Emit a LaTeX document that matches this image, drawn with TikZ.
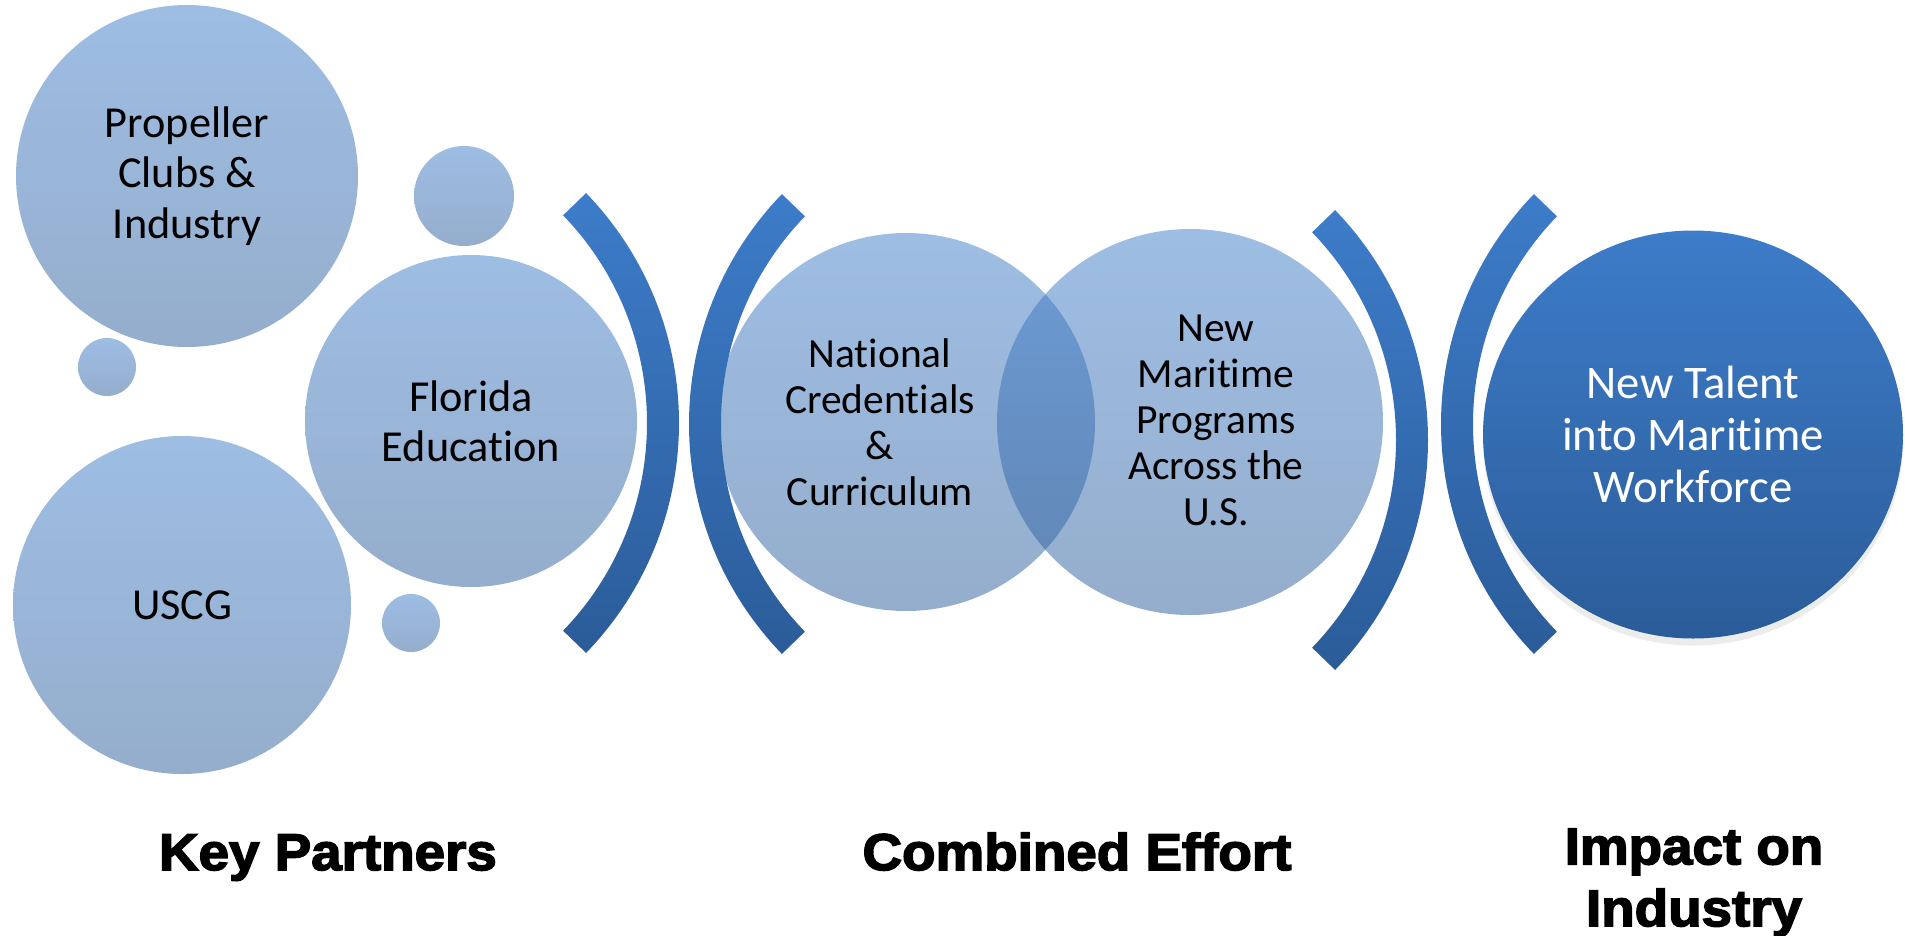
\documentclass[tikz,border=0pt]{standalone}
\usepackage{fontspec}
\setmainfont{Carlito}[Ligatures=NoCommon]
\newfontfamily\titlefont[FakeStretch=1.06,FakeBold=3]{Liberation Sans Bold}
\usetikzlibrary{shapes.geometric,shadows}
\definecolor{topblue}{RGB}{61,124,201}
\definecolor{botblue}{RGB}{43,92,153}

\begin{document}
\begin{tikzpicture}[
        bubble/.style={circle, inner sep=0pt, top color=topblue, bottom color=botblue,
            fill opacity=0.5, text opacity=1, align=center,
            font=\fontsize{12.6}{14.3}\selectfont},
        midtext/.style={inner sep=0pt, align=center, font=\fontsize{11.8}{13.1}\selectfont},
        talentbubble/.style={ellipse, inner sep=0pt, top color=topblue, bottom color=botblue,
            text=white, align=center, font=\fontsize{13.3}{14.8}\selectfont,
            drop shadow={shadow xshift=0pt, shadow yshift=-2pt, opacity=0.15}},
        bandarc/.style={top color=topblue, bottom color=botblue},
        heading/.style={inner sep=0pt, anchor=base, align=center,
            font=\titlefont\fontsize{14.7}{17.6}\selectfont}
    ]
            \useasboundingbox (0,0) rectangle (19.05,-9.35);
            \node[bubble, minimum size=3.42cm] (prop) at (1.87,-1.76) {Propeller\\Clubs \&\\Industry};
            \node[bubble, minimum size=1.00cm] (dotA) at (4.64,-1.96) {};
            \node[bubble, minimum size=0.58cm] (dotB) at (1.07,-3.67) {};
            \node[bubble, minimum size=3.32cm] (flor) at (4.71,-4.21) {Florida\\Education};
            \node[bubble, minimum size=3.38cm] (uscg) at (1.82,-6.05) {USCG};
            \node[bubble, minimum size=0.58cm] (dotC) at (4.11,-6.23) {};
            \path[bandarc, shift={(3.48,-4.23)}] (-44:3.31) arc[start angle=-44, end angle=44, radius=3.31]
                -- (44:2.99) arc[start angle=44, end angle=-44, radius=2.99] -- cycle;
            \path[bandarc, shift={(10.20,-4.24)}] (136:3.31) arc[start angle=136, end angle=224, radius=3.31]
                -- (224:2.99) arc[start angle=224, end angle=136, radius=2.99] -- cycle;
            \node[bubble, minimum size=3.78cm] (natl) at (9.06,-4.22) {};
            \node[bubble, minimum size=3.86cm] (mari) at (11.90,-4.22) {};
            \node[midtext, xshift=-0.26cm] (natltext) at (natl) {National\\Credentials\\\&\\Curriculum};
            \node[midtext, xshift=0.26cm, yshift=0.02cm] (maritext) at (mari) {New\\Maritime\\Programs\\Across the\\U.S.};
            \path[bandarc, shift={(10.97,-4.40)}] (-44:3.31) arc[start angle=-44, end angle=44, radius=3.31]
                -- (44:2.99) arc[start angle=44, end angle=-44, radius=2.99] -- cycle;
            \path[bandarc, shift={(17.72,-4.24)}] (136:3.31) arc[start angle=136, end angle=224, radius=3.31]
                -- (224:2.99) arc[start angle=224, end angle=136, radius=2.99] -- cycle;
            \node[talentbubble, minimum width=4.20cm, minimum height=4.08cm] (talent) at (16.93,-4.345)
                {New Talent\\into Maritime\\Workforce};
            \node[heading] (keyp) at (3.28,-8.70) {Key Partners};
            \node[heading] (comb) at (10.77,-8.70) {Combined Effort};
            \node[heading, anchor=north] (impact) at (16.94,-8.28) {Impact on\\Industry};
\end{tikzpicture}
\end{document}
